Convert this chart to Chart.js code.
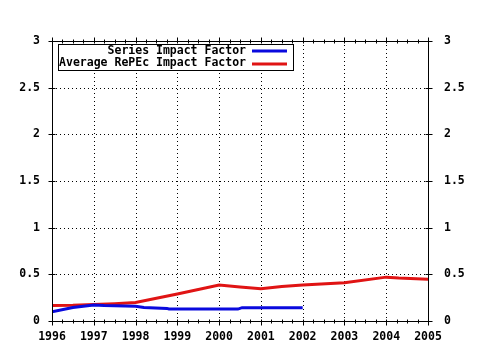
<!DOCTYPE html>
<html>
<head>
<meta charset="utf-8">
<script src="https://cdn.jsdelivr.net/npm/chart.js@4/dist/chart.umd.min.js"></script>
<style>
  body { margin: 0; background: #fff; }
</style>
</head>
<body>
<canvas id="chart" width="480" height="350"></canvas>
<script>
// values (x in years, y = impact factor)
const seriesLabels = ["Series Impact Factor", "Average RePEc Impact Factor"];
const seriesX = [1996, 1996.5, 1997, 1997.25, 1998, 1998.2, 1998.75, 1998.8, 2000.45, 2000.55, 2002];
const seriesY = [0.10, 0.145, 0.172, 0.165, 0.158, 0.145, 0.135, 0.128, 0.128, 0.143, 0.143];
const averageX = [1996, 1996.5, 1997, 1997.5, 1998, 1999, 2000, 2000.5, 2001, 2001.5, 2002, 2003, 2004, 2004.3, 2005];
const averageY = [0.167, 0.17, 0.178, 0.186, 0.198, 0.29, 0.385, 0.365, 0.345, 0.37, 0.385, 0.41, 0.47, 0.46, 0.447];
const yearTicks = [1996, 1997, 1998, 1999, 2000, 2001, 2002, 2003, 2004, 2005];
const valueTicks = [0, 0.5, 1, 1.5, 2, 2.5, 3];

const blue = "#0a0ade";
const red = "#e01414";

function toPoints(xs, ys) {
    var pts = [];
    for (var i = 0; i < xs.length; i++)
        pts.push({ x: xs[i], y: ys[i] });
    return pts;
}

Chart.defaults.font = { family: "'DejaVu Sans Mono', monospace", size: 11.5, weight: "bold" };
Chart.defaults.color = "#000";

// dotted grid, solid frame with little ticks, and the boxed legend
const framePlugin = {
    id: "frame",
    beforeDatasetsDraw(chart) {
        const ctx = chart.ctx, a = chart.chartArea;
        const x = chart.scales.x, y = chart.scales.y;
        ctx.save();
        ctx.strokeStyle = "#000";
        ctx.lineWidth = 1;
        ctx.setLineDash([1, 3]);
        ctx.beginPath();
        yearTicks.forEach(function (t) {
            const px = Math.round(x.getPixelForValue(t)) + 0.5;
            ctx.moveTo(px, a.top); ctx.lineTo(px, a.bottom);
        });
        valueTicks.forEach(function (t) {
            const py = Math.round(y.getPixelForValue(t)) + 0.5;
            ctx.moveTo(a.left, py); ctx.lineTo(a.right, py);
        });
        ctx.stroke();
        ctx.restore();
    },
    afterDatasetsDraw(chart) {
        const ctx = chart.ctx, a = chart.chartArea;
        const x = chart.scales.x, y = chart.scales.y;
        const L = Math.round(a.left) + 0.5, R = Math.round(a.right) + 0.5;
        const T = Math.round(a.top) + 0.5, B = Math.round(a.bottom) + 0.5;
        ctx.save();
        ctx.strokeStyle = "#000";
        ctx.lineWidth = 1;
        ctx.setLineDash([]);
        ctx.strokeRect(L, T, R - L, B - T);
        ctx.beginPath();
        // quarter-year ticks on top and bottom
        for (var q = yearTicks[0]; q <= yearTicks[yearTicks.length - 1] + 0.001; q += 0.25) {
            const px = Math.round(x.getPixelForValue(q)) + 0.5;
            const major = Math.abs(q - Math.round(q)) < 0.001;
            const len = major ? 4 : 2;
            ctx.moveTo(px, B - 2); ctx.lineTo(px, B + len);
            ctx.moveTo(px, T - len); ctx.lineTo(px, T + 2);
        }
        valueTicks.forEach(function (t) {
            const py = Math.round(y.getPixelForValue(t)) + 0.5;
            ctx.moveTo(L - 4, py); ctx.lineTo(L + 3, py);
            ctx.moveTo(R - 3, py); ctx.lineTo(R + 4, py);
        });
        ctx.stroke();

        // legend box
        const bx = 58.5, by = 44.5, bw = 235, bh = 26;
        ctx.fillStyle = "#fff";
        ctx.fillRect(bx, by, bw, bh);
        ctx.save();
        ctx.beginPath();
        ctx.rect(bx, by, bw, bh);
        ctx.clip();
        ctx.fillStyle = "#000";
        ctx.font = "bold 11.5px 'DejaVu Sans Mono', monospace";
        ctx.textAlign = "right";
        ctx.textBaseline = "middle";
        const rows = [51, 63.5];
        chart.data.datasets.forEach(function (ds, i) {
            ctx.fillText(ds.label, 246, rows[i]);
            ctx.strokeStyle = ds.borderColor;
            ctx.lineWidth = 3;
            ctx.beginPath();
            ctx.moveTo(252, Math.round(rows[i]));
            ctx.lineTo(287, Math.round(rows[i]));
            ctx.stroke();
        });
        ctx.restore();
        ctx.strokeStyle = "#000";
        ctx.lineWidth = 1;
        ctx.strokeRect(bx, by, bw, bh);
        ctx.restore();
    }
};

const yScale = {
    min: 0, max: 3,
    grid: { display: false, drawTicks: false },
    border: { display: false },
    ticks: { stepSize: 0.5, callback: function (v) { return String(v); } }
};

new Chart(document.getElementById("chart"), {
    type: "line",
    data: {
        datasets: [
            {
                label: seriesLabels[0],
                data: toPoints(seriesX, seriesY),
                borderColor: blue,
                borderWidth: 3,
                pointRadius: 0,
                tension: 0,
                fill: false
            },
            {
                label: seriesLabels[1],
                data: toPoints(averageX, averageY),
                borderColor: red,
                borderWidth: 3,
                pointRadius: 0,
                tension: 0,
                fill: false
            }
        ]
    },
    options: {
        responsive: false,
        animation: false,
        devicePixelRatio: 1,
        layout: { padding: { top: 41, left: 0, right: 0, bottom: 0 } },
        plugins: { legend: { display: false }, tooltip: { enabled: false } },
        scales: {
            x: {
                type: "linear",
                min: 1996, max: 2005,
                grid: { display: false, drawTicks: false },
                border: { display: false },
                ticks: { stepSize: 1, padding: 9, maxRotation: 0, callback: function (v) { return String(v); } },
                afterFit: function (s) { s.height = 29; }
            },
            y: Object.assign({}, yScale, {
                position: "left",
                ticks: Object.assign({}, yScale.ticks, { padding: 12 }),
                afterFit: function (s) { s.width = 52; }
            }),
            y2: Object.assign({}, yScale, {
                position: "right",
                ticks: Object.assign({}, yScale.ticks, { padding: 16 }),
                afterFit: function (s) { s.width = 52; }
            })
        }
    },
    plugins: [framePlugin]
});
</script>
</body>
</html>
